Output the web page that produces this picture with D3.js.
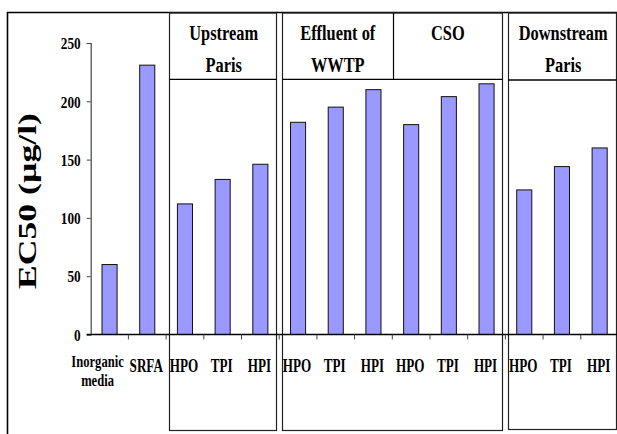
<!DOCTYPE html>
<html>
<head>
<meta charset="utf-8">
<script src="https://cdn.jsdelivr.net/npm/d3@7"></script>
<style>
  html, body { margin: 0; padding: 0; background: #fff; }
  svg { display: block; }
</style>
</head>
<body>
<svg id="chart" width="617" height="434"></svg>
<script>
// ---- data ----
const categories = ["Inorganic media", "SRFA", "HPO", "TPI", "HPI", "HPO", "TPI", "HPI", "HPO", "TPI", "HPI", "HPO", "TPI", "HPI"];
const values = [60, 231, 112, 133, 146, 182, 195, 210, 180, 204, 215, 124, 144, 160];
const yTicks = [0, 50, 100, 150, 200, 250];
const yTitle = "EC50 (µg/l)";
// group headers
const groupNames = [["Upstream", "Paris"], ["Effluent of", "WWTP"], ["CSO"], ["Downstream", "Paris"]];
const groupStart = [2, 5, 8, 11];
const groupEnd = [4, 7, 10, 13];
// boxes: which groups share an outer box
const boxGroups = [[0], [1, 2], [3]];

// pick an installed Times-like serif
function hasFont(name) {
  const c = document.createElement("canvas").getContext("2d");
  const s = "HPO Upstream WWTP 0123456789 mmmwwwiii";
  const res = ["monospace", "sans-serif"].map(fb => {
    c.font = `bold 40px ${fb}`; const a = c.measureText(s).width;
    c.font = `bold 40px "${name}", ${fb}`; const b = c.measureText(s).width;
    return a !== b;
  });
  return res[0] || res[1];
}
const serifCandidates = ["Liberation Serif", "Tinos", "Times New Roman", "Nimbus Roman", "DejaVu Serif", "Noto Serif"];
const FONT = `"${serifCandidates.find(hasFont) || "serif"}", serif`;

const svg = d3.select("#chart");
const W = 617, H = 434;

const ids = categories.map((d, i) => i);
const x = d3.scaleBand().domain(ids).range([90.7, 618.5]).paddingInner(0.6).paddingOuter(0.3);
const y = d3.scaleLinear().domain([0, 250]).range([334.5, 43]);

function styleText(sel, size) {
  sel.attr("font-family", FONT).attr("font-weight", "bold").attr("font-size", size).attr("fill", "#000");
}
// condensed text drawn through a horizontal scale
function label(parent, px, py, str, size, f, anchor) {
  return parent.append("text")
    .attr("transform", `translate(${px},${py}) scale(${f},1)`)
    .attr("text-anchor", anchor || "middle")
    .call(styleText, size)
    .text(str);
}

// outer frame (clipped at bottom/right)
svg.append("path")
  .attr("d", `M7.5,${H + 2} V12.5 H${W + 2}`)
  .attr("fill", "none").attr("stroke", "#000").attr("stroke-width", 1.6);

// group boxes
const left = i => x(i) + x.bandwidth() / 2 - x.step() / 2;
const right = i => x(i) + x.bandwidth() / 2 + x.step() / 2;
const boxes = boxGroups.map(gs => {
  const a = groupStart[gs[0]], b = groupEnd[gs[gs.length - 1]];
  return { x0: left(a) + 3, x1: right(b) - 3, gs };
});
boxes.forEach((bx, k) => {
  const x0 = Math.round(bx.x0) + 0.5, x1 = Math.min(Math.round(bx.x1) + 0.5, W + 2);
  const bottom = k === 2 ? 429.5 : 430.5;
  svg.append("rect")
    .attr("x", x0).attr("y", 13).attr("width", x1 - x0).attr("height", bottom - 13)
    .attr("fill", "none").attr("stroke", "#222").attr("stroke-width", 1.2);
  svg.append("line")
    .attr("x1", x0).attr("x2", x1).attr("y1", k === 2 ? 80 : 79.3).attr("y2", k === 2 ? 80 : 79.3)
    .attr("stroke", "#000").attr("stroke-width", 1.3);
});
// divider between Effluent and CSO
{
  const xd = Math.round(right(groupEnd[1]) + 1) + 0.5;
  svg.append("line").attr("x1", xd).attr("x2", xd).attr("y1", 13).attr("y2", 79.3)
    .attr("stroke", "#000").attr("stroke-width", 1.2);
}

// group header labels
groupNames.forEach((lines, g) => {
  let cx;
  if (g === 1) cx = (left(groupStart[1]) + 3 + right(groupEnd[1]) + 1) / 2;
  else if (g === 2) cx = (right(groupEnd[1]) + 1 + right(groupEnd[2]) - 3) / 2;
  else if (g === 3) cx = (left(groupStart[3]) + 3 + W) / 2 + 0.5;
  else cx = (left(groupStart[g]) + 3 + right(groupEnd[g]) - 3) / 2 + 1;
  lines.forEach((t, j) => label(svg, cx, 40 + j * 32, t, 20, 0.82));
});

// bars
svg.append("g").selectAll("rect")
  .data(values)
  .join("rect")
  .attr("x", (d, i) => x(i))
  .attr("y", d => y(d))
  .attr("width", x.bandwidth())
  .attr("height", d => y(0) - y(d))
  .attr("fill", "#9999ff")
  .attr("stroke", "#111")
  .attr("stroke-width", 1);

// y axis
const tickF = 0.78;
const yAxis = svg.append("g")
  .attr("transform", `translate(${x.range()[0]},0)`)
  .call(d3.axisLeft(y).tickValues(yTicks).tickSize(4).tickPadding(6).tickFormat(d3.format("d")));
yAxis.select(".domain").attr("stroke", "#444").attr("stroke-width", 1.2);
yAxis.selectAll(".tick line").attr("stroke", "#444");
yAxis.selectAll("text").call(styleText, 17).attr("dy", "0.34em")
  .attr("x", -10 / tickF).attr("transform", `scale(${tickF},1)`);

// x axis line and boundary ticks
svg.append("line")
  .attr("x1", x.range()[0] - 4).attr("x2", W + 2)
  .attr("y1", y(0)).attr("y2", y(0))
  .attr("stroke", "#000").attr("stroke-width", 1.3);
const bounds = ids.map(i => right(i)).slice(0, -1);
svg.append("g").selectAll("line")
  .data(bounds)
  .join("line")
  .attr("x1", d => d).attr("x2", d => d)
  .attr("y1", y(0)).attr("y2", y(0) + 5)
  .attr("stroke", "#444").attr("stroke-width", 1);

// x labels
categories.forEach((c, i) => {
  const cx = x(i) + x.bandwidth() / 2;
  if (c === "Inorganic media") {
    ["Inorganic", "media"].forEach((t, j) => label(svg, cx - 12, 367 + j * 19, t, 17, 0.74));
  } else {
    label(svg, cx - 1, 372, c, 18, 0.73);
  }
});

// y title (stretched along its length)
const yt = svg.append("text")
  .attr("text-anchor", "middle")
  .call(styleText, 26)
  .text(yTitle);
const natural = yt.node().getComputedTextLength();
yt.attr("transform", `translate(36,201) rotate(-90) scale(${176 / natural},1)`);
</script>
</body>
</html>
